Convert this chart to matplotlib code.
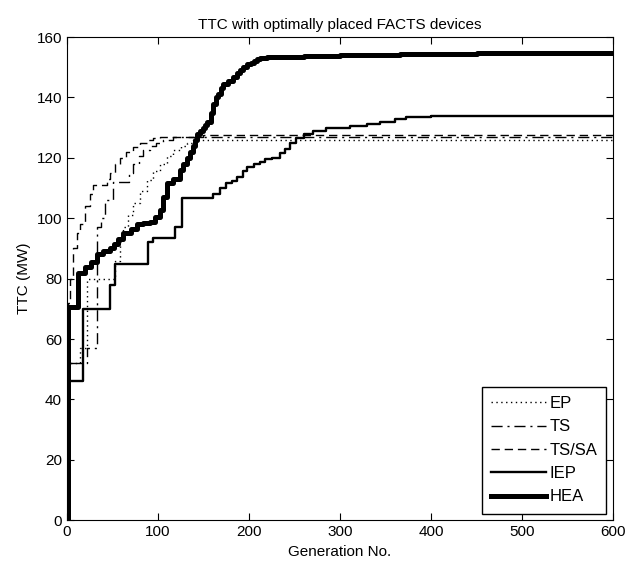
import numpy as np
import matplotlib
matplotlib.use('Agg')
import matplotlib.pyplot as plt

plt.rcParams['font.family'] = ['Liberation Sans', 'DejaVu Sans']

# data (generation, TTC in MW)
ep_gen = [0, 1, 14, 22, 47, 53, 58, 62, 67, 73, 80, 88, 95, 102, 110, 117, 125, 132, 139, 600]
ep_val = [0, 52, 57, 80, 80, 86, 92, 97, 101, 105, 109, 112.6, 115.5, 118, 120.5, 122.5, 124, 125, 126, 126.3]

ts_gen = [0, 1, 22, 33, 38, 42, 51, 62, 68, 73, 79, 84, 91, 98, 106, 117, 600]
ts_val = [0, 52, 57, 97, 100, 106, 112, 112, 115, 118, 120.5, 122.5, 124, 125, 126, 127, 127.2]

tssa_gen = [0, 1, 3, 7, 11, 14, 20, 25, 29, 40, 44, 47, 53, 58, 65, 73, 80, 88, 95, 102, 150, 600]
tssa_val = [0, 72, 80, 90, 95, 98, 104, 108, 111, 111, 113, 115, 118, 120, 122, 123.6, 125, 125.8, 126.5, 127, 127.5, 127.6]

iep_gen = [0, 1, 18, 47, 53, 89, 95, 119, 127, 161, 168, 175, 181, 187, 193, 198, 205, 212, 218, 225, 234, 240, 245, 252, 260, 270, 285, 311, 330, 344, 360, 373, 400, 600]
iep_val = [0, 46, 70, 78, 85, 92, 93.4, 97, 106.6, 108, 110, 111.6, 112.5, 113.6, 115.5, 117, 118, 118.5, 119.5, 120, 121.5, 123, 125, 126.5, 128, 129, 130, 130.5, 131.3, 132, 132.8, 133.5, 134, 134]

hea_gen = [0, 1, 12, 20, 26, 33, 40, 47, 52, 56, 62, 70, 77, 84, 91, 97, 102, 106, 110, 117, 124, 128, 132, 135, 138, 141, 143, 146, 149, 152, 154, 158, 161, 164, 166, 169, 172, 177, 183, 187, 190, 194, 198, 202, 205, 209, 212, 220, 240, 260, 300, 366, 450, 600]
hea_val = [0, 70.5, 82, 84, 85.5, 88, 89, 90, 91.5, 93, 95, 96.5, 98, 98.4, 98.7, 100.5, 102.6, 107, 111.6, 113, 116, 118, 120, 122, 124, 126, 128, 129, 130, 131, 132, 135, 138, 140, 141, 143, 144.6, 145.6, 146.7, 148, 149, 150, 151, 151.5, 152, 152.6, 153, 153.3, 153.5, 153.7, 154, 154.4, 154.6, 154.6]

fig = plt.figure(figsize=(6.25, 5.71), dpi=100)
ax = fig.add_axes([0.107, 0.089, 0.874, 0.846])

ax.plot(ep_gen, ep_val, color='k', ls=(0, (1, 2.5)), lw=1.0, drawstyle='steps-post', label='EP')
ax.plot(ts_gen, ts_val, color='k', ls=(0, (8, 3.5, 1.5, 3.5)), lw=1.0, drawstyle='steps-post', label='TS')
ax.plot(tssa_gen, tssa_val, color='k', ls=(0, (6, 3.5)), lw=1.0, drawstyle='steps-post', label='TS/SA')
ax.plot(iep_gen, iep_val, 'k-', lw=1.7, drawstyle='steps-post', label='IEP')
ax.plot(hea_gen, hea_val, 'k-', lw=3.6, drawstyle='steps-post', label='HEA')

ax.set_xlim(0, 600)
ax.set_ylim(0, 160)
ax.set_xticks(np.arange(0, 601, 100))
ax.set_yticks(np.arange(0, 161, 20))
ax.tick_params(direction='in', top=True, right=True, length=5, labelsize=11)
ax.set_xlabel('Generation No.', fontsize=11)
ax.set_ylabel('TTC (MW)', fontsize=11)
ax.set_title('TTC with optimally placed FACTS devices', fontsize=11)

leg = ax.legend(loc='lower right', fontsize=12, handlelength=3.3, handletextpad=0.2,
                fancybox=False, edgecolor='k', framealpha=1, labelspacing=0.5,
                borderaxespad=0.4, borderpad=0.55)
leg.get_frame().set_linewidth(1.0)

plt.savefig('out.png', dpi=100)
